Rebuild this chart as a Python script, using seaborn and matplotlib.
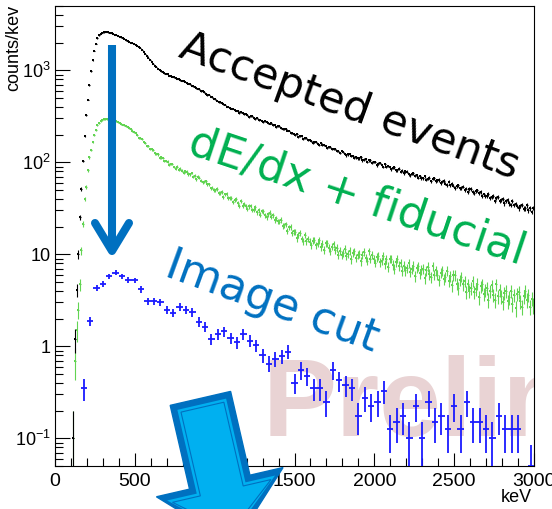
import numpy as np
import pandas as pd
import matplotlib
matplotlib.use("Agg")
import matplotlib.pyplot as plt
import seaborn as sns
from matplotlib.patches import Polygon
from matplotlib.ticker import FixedLocator, FixedFormatter, LogLocator, MultipleLocator, NullFormatter

# ---------------- data (counts/keV) ----------------
fine_bin_kev = 10      # bin width of the two upper spectra
coarse_bin_kev = 40    # bin width of the "Image cut" spectrum

accepted_events = [
    0, 0, 0, 0, 0, 0, 0, 0, 0, 0,
    0, 0.1, 1.2, 4.1, 10.0, 25.3, 51, 103, 194, 325,
    481, 687, 980, 1283, 1619, 1950, 2220, 2390, 2500, 2560,
    2590, 2610, 2605, 2585, 2560, 2525, 2490, 2450, 2410, 2370,
    2330, 2285, 2235, 2180, 2120, 2070, 2030, 2000, 1975, 1945,
    1900, 1855, 1800, 1740, 1670, 1590, 1510, 1440, 1370, 1300,
    1241, 1176, 1127, 1090, 1041, 1013, 976, 958, 930, 918,
    903, 878, 861, 855, 844, 820, 812, 802, 778, 774,
    756, 751, 722, 713, 705, 680, 674, 665, 640, 634,
    622, 594, 589, 580, 555, 537, 540, 514, 508, 489,
    485, 466, 451, 449, 445, 426, 422, 403, 402, 389,
    383, 384, 366, 363, 362, 344, 348, 345, 331, 331,
    328, 312, 315, 315, 303, 295, 304, 290, 291, 283,
    275, 278, 277, 265, 263, 266, 252, 254, 243, 249,
    246, 236, 229, 231, 232, 221, 221, 209, 210, 203,
    200, 202, 190, 191, 191, 179, 184, 183, 173, 174,
    172, 163, 166, 167, 158, 154, 162, 153, 154, 150,
    144, 147, 147, 140, 139, 141, 132, 134, 127, 132,
    130, 123, 119, 122, 124, 117, 118, 112, 113, 110,
    110, 113, 105, 107, 108, 101, 105, 105, 99, 101,
    101, 93, 97, 98, 93, 89, 95, 89, 91, 88,
    84, 87, 88, 82, 82, 85, 79, 81, 76, 80,
    79.2, 74.6, 72.0, 74.8, 76.2, 71.5, 72.6, 67.8, 70.3, 67.1,
    67.2, 70.1, 64.9, 66.2, 67.8, 62.1, 66.0, 66.8, 62.4, 64.0,
    64.2, 59.1, 61.5, 62.7, 58.5, 56.8, 61.4, 56.3, 58.0, 55.8,
    52.7, 55.4, 56.1, 52.1, 52.5, 54.5, 49.7, 51.7, 47.8, 51.6,
    51.2, 47.9, 46.1, 48.7, 49.6, 46.1, 47.3, 42.8, 44.7, 42.5,
    42.9, 45.1, 40.9, 41.8, 42.9, 38.3, 41.3, 41.8, 38.3, 39.4,
    39.5, 35.7, 37.9, 39.1, 35.7, 34.3, 38.2, 34.4, 35.6, 33.8,
    31.7, 33.7, 34.6, 31.4, 31.6, 34.0, 30.1, 31.5, 28.8, 31.8,
]

dedx_fiducial = [
    0, 0, 0, 0, 0, 0, 0, 0, 0, 0,
    0, 0.1, 0.7, 1.5, 2.5, 4.7, 11.0, 21.5, 40.0, 54.0,
    82, 113, 136, 167, 197, 224, 253, 268, 280, 288,
    292, 295, 294, 292, 290, 288, 285, 282, 278, 272,
    266, 262, 257, 253, 248, 243, 236, 228, 220, 212,
    208, 196, 185, 183, 180, 166, 162, 150, 149, 141,
    138, 136, 125, 124, 122, 111, 113, 112, 104, 104,
    102, 94, 96, 96, 89, 85, 90, 83, 85, 81,
    77.3, 79.6, 79.4, 74.4, 74.5, 76.5, 69.8, 71.3, 65.8, 69.4,
    67.9, 63.3, 60.4, 61.7, 62.4, 57.5, 57.5, 52.1, 53.2, 49.8,
    49.4, 51.1, 46.3, 46.8, 47.5, 42.3, 44.8, 44.9, 40.8, 41.4,
    41.0, 36.7, 38.9, 39.6, 35.7, 33.8, 37.7, 33.9, 35.1, 33.3,
    31.3, 33.2, 33.6, 30.5, 30.6, 32.4, 28.6, 30.0, 26.9, 29.7,
    29.3, 26.7, 25.2, 27.3, 28.3, 25.7, 26.5, 23.4, 24.7, 22.9,
    22.6, 23.7, 20.4, 20.7, 21.2, 17.8, 19.6, 19.7, 17.1, 17.7,
    17.6, 15.0, 16.2, 17.0, 14.7, 13.8, 16.3, 13.9, 14.7, 13.7,
    12.6, 14.1, 14.4, 12.6, 13.0, 14.3, 12.0, 13.0, 11.2, 13.2,
    13.2, 11.7, 10.8, 12.1, 12.9, 11.2, 11.8, 9.9, 10.9, 9.9,
    10.3, 11.5, 9.6, 10.2, 10.9, 8.8, 10.4, 10.8, 9.2, 9.9,
    10.2, 8.4, 9.8, 10.6, 9.1, 8.5, 10.8, 9.0, 9.8, 9.0,
    8.1, 9.3, 9.7, 8.2, 8.5, 9.6, 7.8, 8.8, 7.3, 8.9,
    8.9, 7.7, 7.0, 8.2, 8.9, 7.5, 8.1, 6.6, 7.5, 6.7,
    7.1, 8.0, 6.4, 6.9, 7.5, 5.8, 7.1, 7.4, 6.2, 6.8,
    7.0, 5.5, 6.7, 7.3, 6.1, 5.6, 7.4, 6.0, 6.7, 6.0,
    5.3, 6.3, 6.7, 5.4, 5.7, 6.6, 5.1, 5.8, 4.6, 5.9,
    5.9, 4.8, 4.3, 5.2, 5.7, 4.7, 5.1, 3.9, 4.7, 4.0,
    4.3, 5.1, 3.9, 4.2, 4.8, 3.4, 4.5, 4.7, 3.7, 4.1,
    4.3, 3.2, 4.0, 4.6, 3.6, 3.2, 4.7, 3.5, 4.1, 3.5,
    3.0, 3.8, 4.0, 3.1, 3.4, 4.0, 2.9, 3.6, 2.6, 3.7,
    3.9, 3.1, 2.7, 3.5, 4.0, 3.2, 3.6, 2.7, 3.3, 2.8,
]

image_cut = [
    0, 0, 0, 0, 0.35, 1.875, 4.325, 4.8, 5.8, 6.3,
    5.8, 5.3, 5.2, 4.15, 3.1, 3.1, 3.0, 2.475, 2.325, 2.7,
    2.5, 2.35, 1.85, 1.625, 1.2, 1.35, 1.45, 1.225, 1.1, 1.35,
    1.15, 1.025, 0.8, 0.65, 0.725, 0.775, 0.875, 0.4, 0.55, 0.475,
    0.35, 0.35, 0.25, 0.55, 0.425, 0.375, 0.35, 0.175, 0.275, 0.225,
    0.25, 0.325, 0.125, 0.15, 0.175, 0.1, 0.225, 0.1, 0.25, 0.15,
    0.175, 0.125, 0.225, 0.125, 0.25, 0.15, 0.15, 0.125, 0.1, 0.175,
    0.125, 0.125, 0.125, 0, 0.05,
]

x_ticks = [0, 500, 1000, 1500, 2000, 2500, 3000]
x_tick_labels = ["0", "500", "1000", "1500", "2000", "2500", "3000"]
y_ticks = [0.1, 1, 10, 100, 1000]
y_tick_labels = ["$10^{-1}$", "1", "10", "$10^{2}$", "$10^{3}$"]

labels = {
    "accepted": "Accepted events",
    "dedx": "dE/dx + fiducial",
    "image": "Image cut",
    "watermark": "Preliminary",
    "ylabel": "counts/kev",
    "xlabel": "keV",
}

# ---------------- style ----------------
sns.set_theme(style="white")
plt.rcParams["font.family"] = ["Liberation Sans", "DejaVu Sans"]
plt.rcParams["mathtext.default"] = "regular"

W, H = 552, 509
fig = plt.figure(figsize=(W / 100, H / 100), dpi=100)
fig.patch.set_facecolor("white")
ax = fig.add_axes([55 / W, 43 / H, 479 / W, 460 / H])
ax.set_facecolor("white")


def spectrum(values, width):
    v = np.asarray(values, dtype=float)
    x = np.arange(len(v)) * width + width / 2.0
    keep = v > 0
    err = np.sqrt(v * width) / width   # Poisson error of counts, per keV
    return pd.DataFrame({"keV": x[keep], "rate": v[keep], "err": err[keep]})


def draw(df, width, color, lw, msize, z):
    ax.errorbar(df["keV"], df["rate"], yerr=df["err"], xerr=width / 2.0,
                fmt="none", ecolor=color, elinewidth=lw, capsize=0, zorder=z)
    if msize:
        sns.scatterplot(data=df, x="keV", y="rate", ax=ax, color=color,
                        marker="s", s=msize, linewidth=0, zorder=z + 0.1,
                        legend=False)


ax.set_yscale("log")
df_green = spectrum(dedx_fiducial, fine_bin_kev)
df_black = spectrum(accepted_events, fine_bin_kev)
df_blue = spectrum(image_cut, coarse_bin_kev)
draw(df_green, fine_bin_kev, "#62d452", 0.8, 2.2, 2)
draw(df_black, fine_bin_kev, "black", 0.8, 2.2, 3)
draw(df_blue, coarse_bin_kev, "#1a1aff", 1.3, 0, 4)

ax.set_xlim(0, 3000)
ax.set_ylim(0.05, 5000)
ax.set_xlabel("")
ax.set_ylabel("")

ax.xaxis.set_major_locator(FixedLocator(x_ticks))
ax.xaxis.set_major_formatter(FixedFormatter(x_tick_labels))
ax.xaxis.set_minor_locator(MultipleLocator(100))
ax.yaxis.set_major_locator(FixedLocator(y_ticks))
ax.yaxis.set_major_formatter(FixedFormatter(y_tick_labels))
ax.yaxis.set_minor_locator(LogLocator(base=10, subs=np.arange(2, 10), numticks=20))
ax.yaxis.set_minor_formatter(NullFormatter())

ax.tick_params(axis="both", which="both", direction="in", bottom=True, left=True,
               top=False, right=False, color="black", labelcolor="black", width=0.8)
ax.tick_params(axis="y", which="major", length=11, labelsize=13, pad=3)
ax.tick_params(axis="y", which="minor", length=5.5)
ax.tick_params(axis="x", which="major", length=9.5, labelsize=14, pad=5)
ax.tick_params(axis="x", which="minor", length=5.5)
for s in ax.spines.values():
    s.set_color("black")
    s.set_linewidth(0.8)

# watermark (clipped to the frame)
ax.text((263 - 55) / 479, (466 - 436) / 460, labels["watermark"], transform=ax.transAxes,
        ha="left", va="baseline", fontsize=80, fontweight="bold",
        family="Liberation Sans", color="#e9d3d4", zorder=0.5, clip_on=True)

# axis titles
fig.text(14 / W, 1 - 5 / H, labels["ylabel"], rotation=90, ha="center", va="top",
         fontsize=13, color="black")
fig.text(532 / W, 1 - 497 / H, labels["xlabel"], ha="right", va="center",
         fontsize=13, color="black")

# ---------------- overlay annotations (pixel coordinates) ----------------
ov = fig.add_axes([0, 0, 1, 1], zorder=10)
ov.set_xlim(0, W)
ov.set_ylim(H, 0)
ov.axis("off")
ov.patch.set_alpha(0)

hand = ["DejaVu Sans"]
ov.text(350, 107, labels["accepted"], rotation=-20, rotation_mode="anchor",
        ha="center", va="center", fontsize=31, color="black", family=hand)
ov.text(357, 197, labels["dedx"], rotation=-18.5, rotation_mode="anchor",
        ha="center", va="center", fontsize=32, color="#00b050", family=hand)
ov.text(272, 302, labels["image"], rotation=-20, rotation_mode="anchor",
        ha="center", va="center", fontsize=32, color="#0070c0", family=hand)

# blue down arrow
ov.plot([112, 112], [45, 246], color="#0070c0", lw=5.8, solid_capstyle="butt")
ov.plot([95, 112, 129], [223, 251, 223], color="#0070c0", lw=5.8,
        solid_capstyle="round", solid_joinstyle="round")

# big block arrow at the bottom
O = np.array([200.4, 398.4])
d = np.array([0.225, 0.974])
p = np.array([0.974, -0.225])


def arrow_poly(inset):
    pts = [(inset, -31 + inset), (inset, 31 - inset), (86 + inset, 31 - inset),
           (86 + inset, 65 - 1.6 * inset), (150 - 1.5 * inset, 0),
           (86 + inset, -65 + 1.6 * inset), (86 + inset, -31 + inset)]
    return [tuple(O + u * d + v * p) for u, v in pts]


ov.add_patch(Polygon(arrow_poly(0), closed=True, facecolor="#0070c0", edgecolor="#0070c0", lw=1))
ov.add_patch(Polygon(arrow_poly(6), closed=True, facecolor="#00b0f0", edgecolor="none"))
ov.add_patch(Polygon(arrow_poly(9), closed=True, facecolor="#00b0f0", edgecolor="#0070c0", lw=0.8))

fig.savefig("out.png", dpi=100, facecolor="white")
